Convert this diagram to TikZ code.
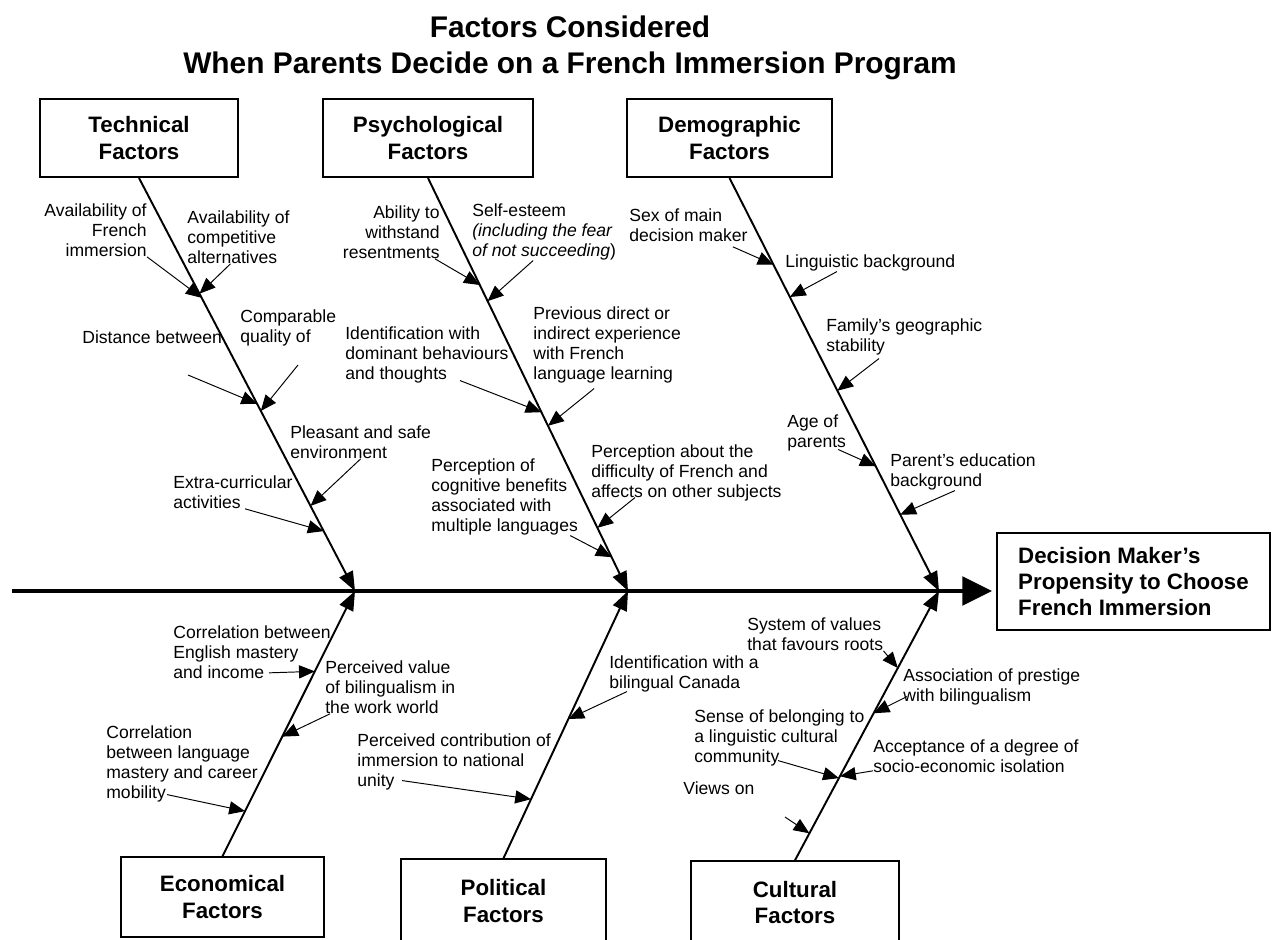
\documentclass[tikz,border=0pt]{standalone}
\usepackage{fontspec}
\setmainfont{Liberation Sans}
\usetikzlibrary{arrows.meta}

\begin{document}
\begin{tikzpicture} [x=0.02cm, y=-0.02cm,
  factor/.style={rectangle, draw, line width=0.9pt, minimum height=1.57cm, align=center, font=\fontsize{12.7}{15.2}\selectfont\bfseries},
  effect/.style={rectangle, draw, line width=0.9pt, minimum width=5.46cm, minimum height=1.94cm, align=left, font=\fontsize{12.7}{14.8}\selectfont\bfseries},
  cause/.style={inner sep=0pt, font=\fontsize{10}{11.4}\selectfont},
  lcause/.style={cause, align=left, anchor=west},
  rcause/.style={cause, align=right, anchor=east},
  spine/.style={line width=2.8pt, -{Triangle[length=17pt,width=16pt]}},
  bone/.style={line width=1.1pt, -{Triangle[length=11pt,width=8.5pt]}},
  sub/.style={line width=0.55pt, -{Triangle[length=9pt,width=7.5pt]}}]
  \useasboundingbox (0,0) rectangle (1280,939);

  %% Title
  \node [align=center, font=\fontsize{17}{20.5}\selectfont\bfseries] (title) at (570,48) {Factors Considered\\When Parents Decide on a French Immersion Program};

  %% Factor boxes and effect
  \node [factor, minimum width=3.96cm] (tech) at (139,138) {Technical\\Factors};
  \node [factor, minimum width=4.2cm] (psych) at (428,138) {Psychological\\Factors};
  \node [factor, minimum width=4.1cm] (demog) at (729.5,138) {Demographic\\Factors};
  \node [factor, minimum width=4.06cm, minimum height=1.6cm] (econ) at (222.5,897) {Economical\\Factors};
  \node [factor, minimum width=4.1cm, minimum height=1.68cm] (polit) at (503.5,901) {Political\\Factors};
  \node [factor, minimum width=4.16cm, minimum height=1.66cm] (cult) at (795,902.5) {Cultural\\Factors};
  \node [effect] (effect) at (1133.5,581.5) {Decision Maker's\\Propensity to Choose\\French Immersion};

  % spine and junctions
  \coordinate (sL) at (12,591);
  \coordinate (j1) at (355,591);
  \coordinate (j2) at (628,591);
  \coordinate (j3) at (939,591);
  \draw [spine, shorten >=2.3pt] (sL) -- (sL -| effect.west);

  % Draw bones
  \draw [bone] (tech.south) -- coordinate[pos=0.29] (availFI-h) coordinate[pos=0.28] (availAlt-h)
    coordinate[pos=0.547] (distance-h) coordinate[pos=0.564] (quality-h)
    coordinate[pos=0.794] (pleasant-h) coordinate[pos=0.855] (extra-h) (j1);
  \draw [bone] (psych.south) -- coordinate[pos=0.259] (ability-h) coordinate[pos=0.298] (esteem-h)
    coordinate[pos=0.567] (identif-h) coordinate[pos=0.6] (previous-h)
    coordinate[pos=0.918] (cognit-h) coordinate[pos=0.847] (difficulty-h) (j2);
  \draw [bone] (demog.south) -- coordinate[pos=0.21] (sex-h) coordinate[pos=0.288] (ling-h)
    coordinate[pos=0.515] (family-h) coordinate[pos=0.698] (age-h) coordinate[pos=0.815] (educ-h) (j3);
  \draw [bone] (econ.north) -- coordinate[pos=0.697] (corrEng-h) coordinate[pos=0.451] (workval-h)
    coordinate[pos=0.17] (corrCareer-h) (j1);
  \draw [bone] (polit.north) -- coordinate[pos=0.521] (identCan-h) coordinate[pos=0.221] (unity-h) (j2);
  \draw [bone] (cult.north) -- coordinate[pos=0.714] (values-h) coordinate[pos=0.546] (prestige-h)
    coordinate[pos=0.305] (belong-h) coordinate[pos=0.312] (isolation-h) coordinate[pos=0.1] (views-h) (j3);

  %% Technical causes
  \node [rcause] (availFI) at (147,230) {Availability of\\French\\immersion};
  \node [lcause] (availAlt) at (187,237) {Availability of\\competitive\\alternatives};
  \node [lcause] (distance) at (82,337) {Distance between};
  \node [lcause] (quality) at (240,328) {Comparable\\quality of};
  \node [lcause] (pleasant) at (290,442) {Pleasant and safe\\environment};
  \node [lcause] (extra) at (173,492) {Extra-curricular\\activities};
  \coordinate (distance-t) at (188,375);
  \coordinate (quality-t) at (298,365);
  \draw [sub] (availFI.south east) -- (availFI-h);
  \draw [sub] ([shift={(-8,0)}]availAlt.south) -- (availAlt-h);
  \draw [sub] (distance-t) -- (distance-h);
  \draw [sub] (quality-t) -- (quality-h);
  \draw [sub] (pleasant.south) -- (pleasant-h);
  \draw [sub] ([shift={(72,0)}]extra.south west) -- (extra-h);

  %% Psychological causes
  \node [rcause] (ability) at (440,232) {Ability to\\withstand\\resentments};
  \node [lcause] (esteem) at (472,232) {Self-esteem\\\textit{(including the fear}\\\textit{of not succeeding})};
  \node [lcause] (identif) at (345,355) {Identification with\\dominant behaviours\\and thoughts};
  \node [lcause] (previous) at (533,345) {Previous direct or\\indirect experience\\with French\\language learning};
  \node [lcause] (cognit) at (431,497) {Perception of\\cognitive benefits\\associated with\\multiple languages};
  \node [lcause] (difficulty) at (591,473) {Perception about the\\difficulty of French and\\affects on other subjects};
  \draw [sub] ([shift={(-5,0)}]ability.south east) -- (ability-h);
  \draw [sub] ([shift={(-11,0)}]esteem.south) -- (esteem-h);
  \draw [sub] ([shift={(115,-3)}]identif.south west) -- (identif-h);
  \draw [sub] ([shift={(-13,5)}]previous.south) -- (previous-h);
  \draw [sub] ([shift={(-8,0)}]cognit.south east) -- (cognit-h);
  \draw [sub] ([shift={(44,-4)}]difficulty.south west) -- (difficulty-h);

  %% Demographic causes
  \node [lcause] (sex) at (629,225) {Sex of main\\decision maker};
  \node [lcause] (ling) at (785,263) {Linguistic background};
  \node [lcause] (family) at (826,337) {Family's geographic\\stability};
  \node [lcause] (age) at (787,433) {Age of\\parents};
  \node [lcause] (educ) at (890,472) {Parent's education\\background};
  \draw [sub] ([shift={(-15,5)}]sex.south east) -- (sex-h);
  \draw [sub] ([shift={(52,0)}]ling.south west) -- (ling-h);
  \draw [sub] ([shift={(53,3)}]family.south west) -- (family-h);
  \draw [sub] ([shift={(-8,-2)}]age.south east) -- (age-h);
  \draw [sub] ([shift={(65,0)}]educ.south west) -- (educ-h);

  %% Economical causes
  \node [lcause] (corrEng) at (173,652) {Correlation between\\English mastery\\and income};
  \node [lcause] (workval) at (325,687) {Perceived value\\of bilingualism in\\the work world};
  \node [lcause] (corrCareer) at (106,764) {Correlation\\between language\\mastery and career\\mobility};
  \draw [sub] ([shift={(96,-6)}]corrEng.south west) -- (corrEng-h);
  \draw [sub] ([shift={(5,0)}]workval.south west) -- (workval-h);
  \draw [sub] ([shift={(61,-8)}]corrCareer.south west) -- (corrCareer-h);

  %% Political causes
  \node [lcause] (identCan) at (609,674) {Identification with a\\bilingual Canada};
  \node [lcause] (unity) at (357,762) {Perceived contribution of\\immersion to national\\unity};
  \draw [sub] ([shift={(18,-1)}]identCan.south west) -- (identCan-h);
  \draw [sub] ([shift={(45,-10)}]unity.south west) -- (unity-h);

  %% Cultural causes
  \node [lcause] (values) at (747,634) {System of values\\that favours roots};
  \node [lcause] (prestige) at (903,687) {Association of prestige\\with bilingualism};
  \node [lcause] (belong) at (694,738) {Sense of belonging to\\a linguistic cultural\\community};
  \node [lcause] (isolation) at (873,756) {Acceptance of a degree of\\socio-economic isolation};
  \node [lcause] (views) at (683,788) {Views on};
  \coordinate (views-t) at (785,817);
  \draw [sub] (values.south east) -- (values-h);
  \draw [sub] ([shift={(4,-9)}]prestige.south west) -- (prestige-h);
  \draw [sub] ([shift={(84,-6)}]belong.south west) -- (belong-h);
  \draw [sub] ([shift={(0,-2)}]isolation.south west) -- (isolation-h);
  \draw [sub] (views-t) -- (views-h);
\end{tikzpicture}
\end{document}
